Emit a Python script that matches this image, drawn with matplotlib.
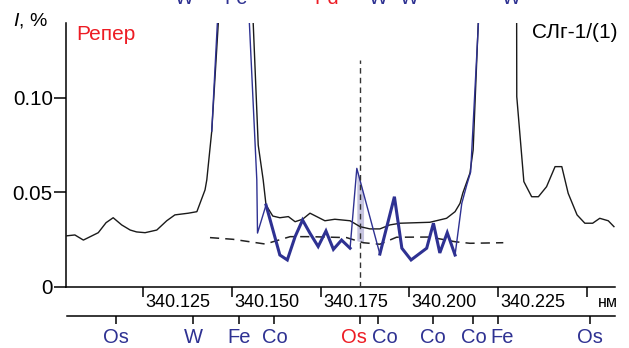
import numpy as np
import matplotlib
matplotlib.use("Agg")
import matplotlib.pyplot as plt

plt.rcParams["font.family"] = ["Liberation Sans", "DejaVu Sans"]
plt.rcParams["mathtext.fontset"] = "custom"
plt.rcParams["mathtext.it"] = "Liberation Sans:italic"
plt.rcParams["mathtext.rm"] = "Liberation Sans"

BLUE = "#2e3192"
RED = "#ed1c24"

# sample spectrum (black), wavelength in nm, intensity in %
sample_wl = [340.1032, 340.1057, 340.1081, 340.1123, 340.1145, 340.1165, 340.1189,
             340.1213, 340.1231, 340.1255, 340.1288, 340.1316, 340.1339, 340.1377,
             340.1401, 340.1424, 340.1429, 340.1443, 340.1520, 340.1574, 340.1588,
             340.1596, 340.1615, 340.1635, 340.1659, 340.1678, 340.1699, 340.1720,
             340.1762, 340.1790, 340.1833, 340.1861, 340.1889, 340.1917, 340.1945,
             340.1974, 340.2058, 340.2105, 340.2129, 340.2143, 340.2151, 340.2171,
             340.2180, 340.2299, 340.2303, 340.2323, 340.2345, 340.2364, 340.2387,
             340.2411, 340.2430, 340.2448, 340.2473, 340.2495, 340.2517, 340.2537,
             340.2561, 340.2577]
sample_int = [0.0270, 0.0275, 0.0248, 0.0287, 0.0340, 0.0366, 0.0328,
              0.0301, 0.0291, 0.0287, 0.0301, 0.0350, 0.0381, 0.0390,
              0.0398, 0.0513, 0.0566, 0.0824, 0.3210, 0.0750, 0.0566,
              0.0433, 0.0375, 0.0366, 0.0372, 0.0345, 0.0358, 0.0390,
              0.0350, 0.0358, 0.0350, 0.0319, 0.0307, 0.0307, 0.0328,
              0.0337, 0.0342, 0.0363, 0.0398, 0.0442, 0.0497, 0.0602,
              0.0724, 0.6270, 0.1006, 0.0557, 0.0477, 0.0477, 0.0530,
              0.0636, 0.0636, 0.0495, 0.0381, 0.0337, 0.0337, 0.0363,
              0.0350, 0.0319]

# reference spectrum (blue), thin parts
ref_left_wl = [340.1443, 340.1506, 340.1570, 340.1572, 340.1596]
ref_left_int = [0.0824, 0.3100, 0.0566, 0.0285, 0.0433]
ref_peak_wl = [340.1833, 340.1852, 340.1917]
ref_peak_int = [0.0205, 0.0627, 0.0174]
ref_right_wl = [340.2129, 340.2148, 340.2162, 340.2173, 340.2202]
ref_right_int = [0.0169, 0.0442, 0.0539, 0.0608, 0.1650]

# reference spectrum (blue), thick parts
ref_a_wl = [340.1596, 340.1635, 340.1656, 340.1678, 340.1699, 340.1720,
            340.1743, 340.1765, 340.1786, 340.1809, 340.1833]
ref_a_int = [0.0433, 0.0169, 0.0143, 0.0266, 0.0354, 0.0284,
             0.0214, 0.0296, 0.0199, 0.0248, 0.0205]
ref_b_wl = [340.1917, 340.1958, 340.1979, 340.2005, 340.2049, 340.2068,
            340.2086, 340.2107, 340.2129]
ref_b_int = [0.0174, 0.0477, 0.0205, 0.0143, 0.0205, 0.0337,
             0.0180, 0.0287, 0.0169]

# background (dashed)
bg_wl = [340.1438, 340.1503, 340.1594, 340.1664, 340.1720, 340.1823, 340.1870,
         340.1917, 340.1964, 340.2058, 340.2130, 340.2171, 340.2265]
bg_int = [0.0261, 0.0252, 0.0227, 0.0266, 0.0266, 0.0261, 0.0234,
          0.0226, 0.0263, 0.0264, 0.0239, 0.0231, 0.0234]

os_line = 340.1861
os_band = (340.1852, 340.1871)

x_ticks = [340.125, 340.150, 340.175, 340.200, 340.225, 340.250]
x_labels = ["340.125", "340.150", "340.175", "340.200", "340.225", ""]
y_ticks = [0, 0.05, 0.10]
y_labels = ["0", "0.05", "0.10"]

lines_bottom = ["Os", "W", "Fe", "Co", "Os", "Co", "Co", "Co", "Fe", "Os"]
lines_bottom_wl = [340.1170, 340.1388, 340.1519, 340.1618, 340.1861,
                   340.1910, 340.2065, 340.2180, 340.2250, 340.2509]
lines_bottom_col = [BLUE, BLUE, BLUE, BLUE, RED, BLUE, BLUE, BLUE, BLUE, BLUE]
# horizontal nudge of crowded labels, in points
label_nudge = [0, 0, 0, 0, -4.5, 5.3, 0, 0, 3, 0]

lines_top = ["W", "Fe", "Pd", "W", "W", "W"]
lines_top_wl = [340.1365, 340.1511, 340.1768, 340.1912, 340.1999, 340.2288]
lines_top_col = [BLUE, BLUE, RED, BLUE, BLUE, BLUE]

W, H = 629, 348
fig = plt.figure(figsize=(W / 100, H / 100), dpi=100)
ax = fig.add_axes([66 / W, 1 - 287 / H, (615 - 66) / W, (287 - 23) / H])
xlim = (340.1032, 340.2580)
ax.set_xlim(*xlim)
ax.set_ylim(0, 0.1395)

# shaded Os peak area
fx = np.linspace(os_band[0], os_band[1], 20)
ax.fill_between(fx, np.interp(fx, bg_wl, bg_int),
                np.interp(fx, ref_peak_wl, ref_peak_int),
                color="#c6c4e0", lw=0, zorder=1)

ax.plot(bg_wl, bg_int, color="#222222", lw=1.1, ls=(0, (6, 4)), zorder=2)
ax.plot(sample_wl, sample_int, color="#1a1a1a", lw=1.0, zorder=3)
for wl, it in [(ref_left_wl, ref_left_int), (ref_peak_wl, ref_peak_int),
               (ref_right_wl, ref_right_int)]:
    ax.plot(wl, it, color=BLUE, lw=1.0, zorder=4)
for wl, it in [(ref_a_wl, ref_a_int), (ref_b_wl, ref_b_int)]:
    ax.plot(wl, it, color=BLUE, lw=2.2, zorder=5, solid_joinstyle="miter")

ax.plot([os_line, os_line], [0, 0.120], color="#333333", lw=1.0,
        ls=(0, (4, 3)), zorder=6)

for s in ["top", "right"]:
    ax.spines[s].set_visible(False)
for s in ["left", "bottom"]:
    ax.spines[s].set_linewidth(1.1)

ax.set_yticks(y_ticks)
ax.set_yticklabels(y_labels, fontsize=14.8)
ax.tick_params(axis="y", direction="out", length=8.5, width=1.1, pad=1)
ax.set_xticks(x_ticks)
ax.set_xticklabels([])
ax.tick_params(axis="x", direction="out", length=7, width=1.1)
for t, lab in zip(x_ticks, x_labels):
    ax.annotate(lab, xy=(t, 0), xycoords=("data", "axes fraction"),
                xytext=(1.8, -14.2), textcoords="offset points",
                ha="left", va="baseline", fontsize=13)
ax.annotate("нм", xy=(1, 0), xycoords="axes fraction", xytext=(2.2, -14.2),
            textcoords="offset points", ha="right", va="baseline", fontsize=11.5)

# lower axis with element lines
ax2 = fig.add_axes([67 / W, 1 - 316 / H, (615 - 67) / W, 0.001])
ax2.set_xlim(*xlim)
ax2.patch.set_visible(False)
for s in ["top", "right", "left"]:
    ax2.spines[s].set_visible(False)
ax2.spines["bottom"].set_linewidth(1.1)
ax2.set_yticks([])
ax2.set_xticks(lines_bottom_wl)
ax2.set_xticklabels([])
ax2.tick_params(axis="x", direction="out", length=6, width=1.1)
for lab, wl, c, dx in zip(lines_bottom, lines_bottom_wl, lines_bottom_col, label_nudge):
    ax2.annotate(lab, xy=(wl, 0), xycoords=("data", "axes fraction"),
                 xytext=(dx, -19.7), textcoords="offset points",
                 ha="center", va="baseline", fontsize=14.5, color=c)

# element labels cut at the top edge
for lab, wl, c in zip(lines_top, lines_top_wl, lines_top_col):
    ax.annotate(lab, xy=(wl, 1 - 4.0 / H), xycoords=("data", "figure fraction"),
                ha="center", va="baseline", fontsize=14.5, color=c,
                annotation_clip=False)

fig.text(13 / W, 1 - 25 / H, "$I$, %", fontsize=14, va="baseline", ha="left")
fig.text(76 / W, 1 - 40 / H, "Репер", fontsize=15, va="baseline", ha="left",
         color=RED)
fig.text(531.7 / W, 1 - 37.5 / H, "СЛг-1/(1)", fontsize=15, va="baseline",
         ha="left")

fig.savefig("out.png", dpi=100)
